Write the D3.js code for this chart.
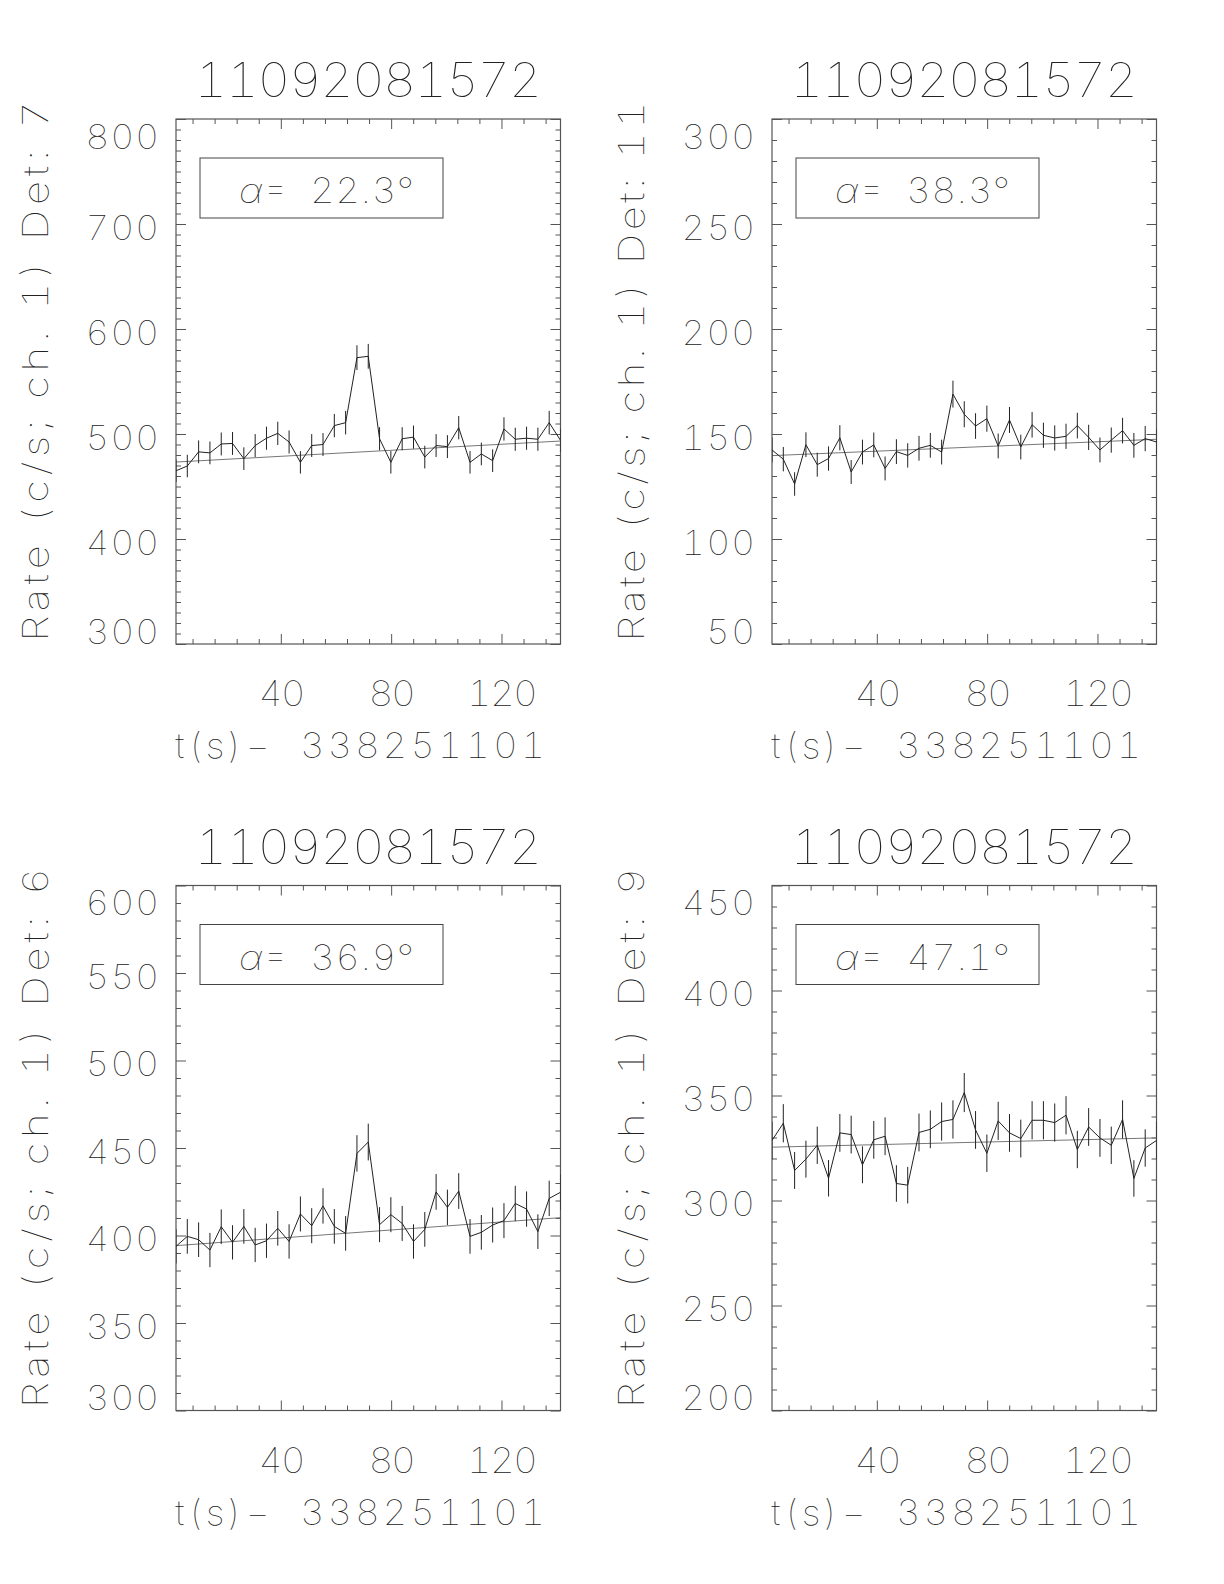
<!DOCTYPE html>
<html><head><meta charset="utf-8">
<script src="https://cdn.jsdelivr.net/npm/d3@7"></script>
<style>
body{margin:0;background:#fff}
svg text{font-family:"Inter","DejaVu Sans",sans-serif;font-weight:100;fill:#222;font-variant-numeric:tabular-nums;font-feature-settings:"tnum" 1}
</style>
</head><body><svg id="c" width="1224" height="1584"></svg>
<script>
// ---- data ----
const times = [2.0,6.1,10.2,14.3,18.4,22.5,26.6,30.7,34.8,38.9,43.0,47.1,51.2,55.3,59.4,63.5,67.6,71.7,75.8,79.9,84.0,88.1,92.2,96.3,100.4,104.5,108.6,112.7,116.8,120.9,125.0,129.1,133.2,137.3,141.4];
const title = "11092081572";
const xTitle = "t(s)\u2212  338251101";
const xMajorTicks = [40,80,120];
const xMinorTicks = [8,16,24,32,48,56,64,72,88,96,104,112,128,136];

const detNames = ["7","11","6","9"];
const angles = ["22.3","38.3","36.9","47.1"];

const det7 = [465,469.5,483,482,490.5,491,476.5,489,496,500.6,492.4,473,489,490,508,510.8,572.7,574,495.5,473,495.5,497,478,489,488,506,473,481,474.6,504.8,495,496,495,510.8,494];
const det7Err = [10.7,10.7,10.9,10.8,10.9,10.9,10.8,10.9,11.0,11.1,11.0,10.7,10.9,10.9,11.1,11.2,11.8,11.8,11.0,10.7,11.0,11.0,10.8,10.9,10.9,11.1,10.7,10.8,10.8,11.1,11.0,11.0,11.0,11.2,11.0];
const det7Fit = [473.3,493.3];

const det11 = [142.4,138,126.2,144.9,135.4,138.3,148.2,131.9,141.4,144.8,133.6,141.6,139.8,143.2,144.6,141.4,169,159.4,153.8,157.3,144.3,156.7,143.8,154.4,149.4,148.1,148.9,154,148.4,142.4,147.1,151.6,144.6,147.8,146.2];
const det11Err = [5.9,5.8,5.6,5.9,5.7,5.8,6.0,5.7,5.9,5.9,5.7,5.9,5.8,5.9,5.9,5.9,6.4,6.2,6.1,6.2,5.9,6.2,5.9,6.1,6.0,6.0,6.0,6.1,6.0,5.9,6.0,6.1,5.9,6.0,6.0];
const det11Fit = [139.7,147.5];

const det6 = [393.8,399.5,397.6,391.7,405,396.1,405.2,394.6,397,404.1,396.6,412.3,405.6,416.9,405.2,401.2,446.9,453.4,406.2,411.9,406.9,396.6,403.5,424.9,416.1,425.4,399.5,401.8,406,408.5,418.3,415.1,402.2,421.2,424.7];
const det6Err = [9.8,9.9,9.9,9.8,9.9,9.8,9.9,9.8,9.8,9.9,9.8,10.0,10.0,10.1,9.9,9.9,10.4,10.5,10.0,10.0,10.0,9.8,9.9,10.2,10.1,10.2,9.9,9.9,10.0,10.0,10.1,10.1,9.9,10.1,10.2];
const det6Fit = [394.2,410.2];

const det9 = [328.6,336.8,314.3,319.7,326.3,310.6,332.2,331.4,317,328.9,330.6,308.1,307.3,332.4,333.9,337.6,338.6,351.4,333.6,322.5,337.9,332.2,329.5,338.2,338.2,337.1,340.6,324.3,335,329.8,326.3,338.6,310.5,325,328.6];
const det9Err = [9.0,9.1,8.8,8.8,8.9,8.7,9.0,9.0,8.8,9.0,9.0,8.7,8.7,9.0,9.0,9.1,9.1,9.3,9.0,8.9,9.1,9.0,9.0,9.1,9.1,9.1,9.1,8.9,9.0,9.0,8.9,9.1,8.7,8.9,9.0];
const det9Fit = [325.4,329.8];

const yDomains = [[300,800],[50,300],[300,600],[200,450]];
const yMajorSteps = [100,50,50,50];
const yMinorStep = 10;

// ---- layout ----
const colX = [176, 772];
const rowY = [119, 885.5];
const W = 384.5, H = 525;
const SX = 1.08; // horizontal glyph stretch

const panels = [
  {vals:det7, err:det7Err, fit:det7Fit},
  {vals:det11, err:det11Err, fit:det11Fit},
  {vals:det6, err:det6Err, fit:det6Fit},
  {vals:det9, err:det9Err, fit:det9Fit}
];

const svg = d3.select("#c");
svg.append("rect").attr("width",1224).attr("height",1584).attr("fill","#fff");

function addText(parent, x, y, str, size, length, anchor, rot, sx){
  const s = sx || SX;
  const t = parent.append("text")
    .attr("transform",`translate(${x},${y}) rotate(${rot||0}) scale(${s},1)`)
    .attr("text-anchor",anchor||"start")
    .attr("font-size",size)
    .style("white-space","pre");
  if(length) t.attr("textLength",length/s).attr("lengthAdjust","spacing");
  if(str!==null) t.text(str);
  return t;
}

panels.forEach((p,i)=>{
  const g = svg.append("g").attr("transform",`translate(${colX[i%2]},${rowY[Math.floor(i/2)]})`);
  const x = d3.scaleLinear().domain(d3.extent(times)).range([0,W]);
  const y = d3.scaleLinear().domain(yDomains[i]).range([H,0]);
  const yd = yDomains[i];
  const yMajor = d3.range(yd[0], yd[1]+0.001, yMajorSteps[i]);
  const yMinor = d3.range(yd[0], yd[1]+0.001, yMinorStep).filter(v=>yMajor.indexOf(v)<0);

  const clip = "clip"+i;
  g.append("clipPath").attr("id",clip).append("rect").attr("width",W).attr("height",H);

  // ticks
  const tickStyle = sel => { sel.select(".domain").remove(); sel.selectAll("line").attr("stroke","#555"); };
  g.append("g").attr("transform",`translate(0,${H})`).call(d3.axisBottom(x).tickValues(xMinorTicks).tickSize(-5).tickFormat("")).call(tickStyle);
  g.append("g").attr("transform",`translate(0,${H})`).call(d3.axisBottom(x).tickValues(xMajorTicks).tickSize(-10).tickFormat("")).call(tickStyle);
  g.append("g").call(d3.axisTop(x).tickValues(xMinorTicks).tickSize(-5).tickFormat("")).call(tickStyle);
  g.append("g").call(d3.axisTop(x).tickValues(xMajorTicks).tickSize(-10).tickFormat("")).call(tickStyle);
  g.append("g").call(d3.axisLeft(y).tickValues(yMinor).tickSize(-5).tickFormat("")).call(tickStyle);
  g.append("g").call(d3.axisLeft(y).tickValues(yMajor).tickSize(-10).tickFormat("")).call(tickStyle);
  g.append("g").attr("transform",`translate(${W},0)`).call(d3.axisRight(y).tickValues(yMinor).tickSize(-5).tickFormat("")).call(tickStyle);
  g.append("g").attr("transform",`translate(${W},0)`).call(d3.axisRight(y).tickValues(yMajor).tickSize(-10).tickFormat("")).call(tickStyle);

  // frame
  g.append("rect").attr("width",W).attr("height",H).attr("fill","none").attr("stroke","#555").attr("stroke-width",1.2);

  // y tick labels
  yMajor.forEach(d=>{
    const cy = Math.min(Math.max(y(d)+3, 17), H-13);
    addText(g, -17, cy+12.5, String(d), 34, String(d).length*24.5, "end");
  });
  // x tick labels
  xMajorTicks.forEach(d=>{
    addText(g, x(d)+1, H+62, String(d), 35, String(d).length*23.5, "middle");
  });

  // titles
  addText(g, W/2, -22, title, 47, 347, "middle");
  addText(g, W/2-8, H+114, xTitle, 35, 370, "middle");
  addText(g, -128, H/2-10, `Rate (c/s; ch. 1) Det: ${detNames[i]}`, 35, 540, "middle", -90, 1.2);

  // label box
  g.append("rect").attr("x",24).attr("y",39).attr("width",243).attr("height",60)
    .attr("fill","none").attr("stroke","#444").attr("stroke-width",1);
  const lt = addText(g, 63, 84, null, 35, 175, "start");
  lt.append("tspan").attr("font-style","italic").text("\u03b1");
  lt.append("tspan").text(`=  ${angles[i]}\u00b0`);

  const pg = g.append("g").attr("clip-path",`url(#${clip})`);
  // fit line
  const te = d3.extent(times);
  pg.append("line").attr("x1",x(te[0])).attr("y1",y(p.fit[0])).attr("x2",x(te[1])).attr("y2",y(p.fit[1]))
    .attr("stroke","#777").attr("stroke-width",1);
  // error bars
  pg.selectAll(".eb").data(times).join("line")
    .attr("x1",d=>x(d)).attr("x2",d=>x(d))
    .attr("y1",(d,k)=>y(p.vals[k]-p.err[k])).attr("y2",(d,k)=>y(p.vals[k]+p.err[k]))
    .attr("stroke","#222").attr("stroke-width",1);
  // data line
  pg.append("path").datum(times)
    .attr("d",d3.line().x(d=>x(d)).y((d,k)=>y(p.vals[k])))
    .attr("fill","none").attr("stroke","#222").attr("stroke-width",1);
});
</script></body></html>
